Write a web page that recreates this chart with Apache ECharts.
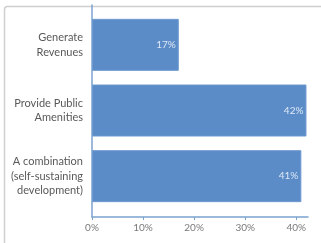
<!DOCTYPE html>
<html>
<head>
<meta charset="utf-8">
<script src="https://cdn.jsdelivr.net/npm/echarts@6/dist/echarts.min.js"></script>
<style>
  html, body { margin: 0; padding: 0; background: #fff; }
  #chart { width: 321px; height: 243px; }
</style>
</head>
<body>
<div id="chart"></div>
<script>
// categories top to bottom
const categories = ['Generate\nRevenues', 'Provide Public\nAmenities', 'A combination\n(self-sustaining\ndevelopment)']
const values = [17, 42, 41]
const tickValues = [0, 10, 20, 30, 40]

const axisMax = 42.3
const barColor = '#5b8cc8'
const lineColor = '#7ba2cf'
const font = 'Lato, "Open Sans", sans-serif'

const chart = echarts.init(document.getElementById('chart'), null, { renderer: 'canvas' })

chart.setOption({
  backgroundColor: '#fff',
  animation: false,
  graphic: [
    // light frame around the panel
    { type: 'rect', left: 2, top: 4, shape: { width: 340, height: 260, r: 3 }, style: { fill: 'none', stroke: '#cfcfcf', lineWidth: 1.5 }, z: 0 },
  ],
  grid: [
    { left: 92, right: 13, top: 12, bottom: 34 },
    { left: 92, right: 13, top: 5, bottom: 26 },
  ],
  xAxis: [
    { type: 'value', gridIndex: 0, min: 0, max: axisMax, show: false },
    {
      type: 'value', gridIndex: 1, min: 0, max: axisMax,
      axisLine: { show: true, lineStyle: { color: lineColor, width: 1.5 } },
      axisTick: { show: true, length: 3, customValues: tickValues, lineStyle: { color: lineColor } },
      axisLabel: { customValues: tickValues, formatter: v => v + '%', color: '#7a7a7a', fontSize: 10, fontFamily: font, margin: 6 },
      splitLine: { show: false },
    },
  ],
  yAxis: [
    {
      type: 'category', gridIndex: 0, data: categories, inverse: true,
      axisLine: { show: false }, axisTick: { show: false },
      axisLabel: { color: '#595959', fontSize: 11, fontFamily: font, lineHeight: 14.5, align: 'right', margin: 9 },
    },
    {
      type: 'category', gridIndex: 1, data: categories, inverse: true,
      axisLine: { show: true, lineStyle: { color: lineColor, width: 1.5 } },
      axisTick: { show: false }, axisLabel: { show: false },
    },
  ],
  series: [
    {
      type: 'bar', xAxisIndex: 0, yAxisIndex: 0,
      data: values,
      barWidth: 52,
      itemStyle: { color: barColor, borderColor: '#6f9ad0', borderWidth: 1 },
      label: {
        show: true, position: 'insideRight', distance: 3,
        formatter: p => p.value + '%',
        color: 'rgba(235,242,250,0.9)', fontSize: 10, fontFamily: font,
      },
    },
  ],
})
</script>
</body>
</html>
